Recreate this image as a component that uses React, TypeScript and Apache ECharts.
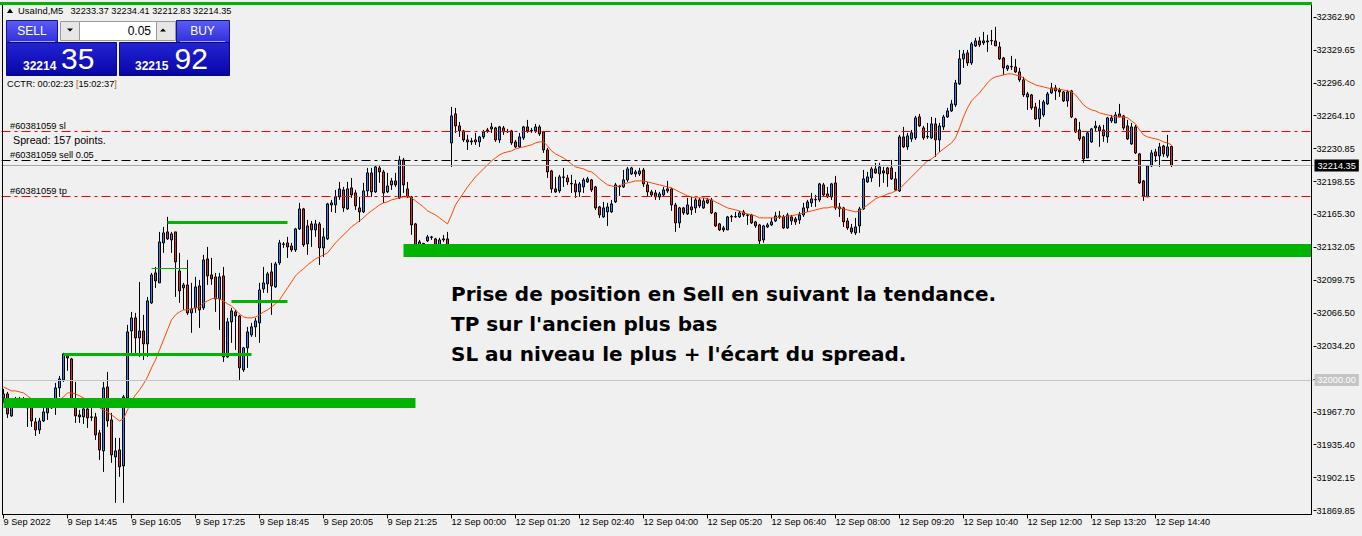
import React, { useEffect, useRef } from 'react';
import * as echarts from 'echarts';

// ---------- data ----------
const SLOT_COUNT = 328; // 293 candles + empty right margin of the MT4 chart
const categories = Array.from({ length: SLOT_COUNT }, (_, i) => String(i));

const timeLabels = ['9 Sep 2022', '9 Sep 14:45', '9 Sep 16:05', '9 Sep 17:25', '9 Sep 18:45', '9 Sep 20:05', '9 Sep 21:25',
  '12 Sep 00:00', '12 Sep 01:20', '12 Sep 02:40', '12 Sep 04:00', '12 Sep 05:20', '12 Sep 06:40', '12 Sep 08:00',
  '12 Sep 09:20', '12 Sep 10:40', '12 Sep 12:00', '12 Sep 13:20', '12 Sep 14:40'];

// price scale labels, bottom to top ('' = slot covered by the 32000 level label)
const priceTickLabels = ['31869.85', '31902.15', '31935.40', '31967.70', '', '32034.20', '32066.50', '32099.75',
  '32132.05', '32165.30', '32198.55', '32230.85', '32264.10', '32296.40', '32329.65', '32362.90'];

const opens = [31982,31986,31964,31977,31978,31981,31974,31972,31958,31950,
 31959,31967,31972,31974,31992,32000,32025,32021,31980,31965,
 31963,31971,31963,31963,31947,31929,31993,31960,31923,31930,
 31914,31982,32049,32062,32042,32049,32036,32077,32107,32097,
 32137,32148,32140,32148,32109,32092,32095,32067,32072,32094,
 32072,32121,32105,32103,32081,32104,32023,32058,32068,32064,
 32010,32032,32045,32053,32057,32091,32096,32108,32093,32117,
 32136,32137,32134,32130,32151,32171,32136,32156,32150,32156,
 32132,32141,32175,32175,32183,32190,32171,32192,32187,32172,
 32168,32189,32207,32188,32212,32208,32188,32195,32199,32182,
 32220,32191,32183,32156,32134,32136,32139,32143,32141,32135,
 32140,32141,32237,32266,32254,32249,32238,32239,32240,32238,
 32243,32249,32251,32252,32240,32252,32248,32249,32238,32233,
 32242,32253,32249,32249,32253,32248,32230,32209,32191,32189,
 32203,32202,32196.5,32196,32188,32193,32198,32200,32193,32173,
 32163,32168,32168,32178,32193,32193,32200,32206,32206,32206,
 32210,32195,32188,32187,32183,32185,32191,32191,32175,32157,
 32172,32166,32173,32172,32180,32172,32180,32180,32167,32156,
 32152,32150,32163,32163,32163,32168,32165,32165,32158,32155,
 32140,32153,32155,32159,32163,32163,32152,32163,32161,32160,
 32165,32172,32177,32180,32180,32195,32186,32183,32197,32173,
 32172,32159,32152,32147,32154,32171,32198,32202,32211,32206,
 32209,32212,32212,32201,32189,32243,32233,32241,32242,32263,
 32252,32243,32242,32256,32240,32253,32263,32269,32275,32296,
 32321,32327,32317,32334,32339,32337,32338,32339,32339,32333,
 32322,32311,32313,32313,32308,32300,32283,32285,32273,32261,
 32265,32276,32287,32292,32290,32288,32279,32289,32261,32250,
 32243,32222,32238,32252,32253,32250,32243,32259,32257,32266,
 32264,32254,32236,32253,32226,32199,32183,32214,32228,32224,
 32234,32224,32233.37];

const closes = [31986,31966,31978,31979,31981,31974,31972,31959,31950,31959,
 31968,31972,31975,31992,32001,32026,32022,31980,31964,31963,
 31971,31962,31962.5,31945,31930,31992,31959,31925,31929,31913,
 31983,32048,32062,32042,32049,32036,32079,32105,32099,32138,
 32147,32141,32146,32118,32089,32095,32067,32071,32093,32070,
 32120,32104,32101,32081,32103,32023,32058,32069,32064,32012,
 32032,32048,32053,32059,32090,32097,32106,32094,32116,32137,
 32135.5,32133,32130,32151,32171,32135,32154,32150,32156,32132,
 32143,32176,32177,32183,32191,32172,32191,32185,32174,32168,
 32189,32207,32188,32213,32208,32187,32194,32199,32195,32220,
 32195,32183,32155,32135,32138,32136.5,32143,32142.5,32134,32140,
 32141,32132,32264,32254,32249,32240,32240,32238,32238,32243,
 32248,32250,32253,32240,32253,32248,32248.5,32237,32233,32243,
 32253,32249,32249.5,32253,32246,32230,32208,32191,32188,32203,
 32202.5,32198,32196,32188,32196,32200,32201,32190,32172,32165,
 32172,32173,32176,32195,32193.5,32200,32211,32212,32208,32209,
 32196,32188,32185,32183,32186,32190,32189,32175,32157,32172,
 32167,32175,32170,32180,32174,32179,32177,32167,32154,32150,
 32150,32163,32163.5,32163.5,32167,32165,32164.5,32157,32154,32139,
 32154,32155,32158,32164,32164,32152,32165,32159,32158,32165,
 32172,32178,32181,32180.5,32196,32185,32183,32196,32172,32171,
 32158,32152,32148,32153,32171,32201,32203,32211,32207,32213,
 32207,32206,32201,32190,32243,32233,32244,32247,32262,32254,
 32242,32243.5,32256,32240,32254,32263,32269,32276,32297,32321,
 32326,32317,32336,32339,32335,32339,32339,32339.5,32334,32321,
 32312,32314,32313.5,32308,32300,32285,32286,32272,32261,32271,
 32278,32286,32292,32289,32288,32279,32288,32263,32248,32241,
 32221,32247,32251,32254,32249,32244,32262,32262,32265,32263,
 32252,32241,32253,32227,32197,32184,32214,32227,32224,32233,
 32226,32233,32214.35];

const highs = [31991,31988,31980,31983,31983,31983,31977,31973,31962,31962,
 31977,31979,31980,31997,32004,32027,32026,32022,31998,31970,
 31973,31973,31973,31967,31950,31998,32008,31967,31942,31942,
 31985,32055,32068,32067,32098,32065,32083,32107,32113,32148,
 32153,32163,32148,32148,32127,32097,32120,32097,32103,32100,
 32125,32133,32122,32107,32107,32113,32062,32072,32070,32065,
 32033,32053,32057,32062,32097,32113,32108,32117,32118,32140,
 32138,32143,32137,32152,32177,32172,32160,32159,32160,32158,
 32152,32177,32180,32190,32198,32193,32198,32202,32190,32183,
 32197,32212,32212,32215,32215,32210,32207,32202,32207,32224,
 32222,32198,32184,32157,32140,32137,32145,32144,32142,32142,
 32145,32148,32273,32272,32258,32250,32245,32242,32247,32244,
 32250,32252,32257,32253,32254,32254,32251,32250,32240,32247,
 32254,32260,32252,32256,32255,32249,32232,32210,32203,32205,
 32212,32205,32205,32200,32198,32202,32203,32201,32194,32174,
 32178,32177,32180,32197,32195,32210,32213,32213,32210,32212,
 32212,32198,32190,32190,32188,32193,32199,32192,32177,32173,
 32173,32182,32183,32182,32182,32182,32182,32182,32168,32157,
 32154,32164,32165,32168,32169,32170,32166,32166,32159,32156,
 32155,32157,32162,32168,32169,32165,32167,32165,32163,32168,
 32177,32180,32187,32185,32197,32197,32193,32197,32204,32177,
 32173,32162,32156,32162,32173,32210,32208,32213,32217,32217,
 32213,32213,32220,32208,32245,32253,32247,32250,32264,32266,
 32254,32257,32263,32262,32257,32265,32272,32280,32300,32330,
 32330,32330,32338,32342,32343,32348,32345,32350,32353,32338,
 32323,32315,32324,32321,32312,32303,32288,32286,32277,32280,
 32280,32288,32297,32295,32292,32289,32290,32290,32262,32258,
 32244,32248,32252,32259,32255,32255,32263,32265,32268,32276,
 32265,32260,32257,32255,32227,32200,32215,32230,32231,32237,
 32235,32245,32234.41];

const lows = [31977,31962,31963,31975,31976,31973,31953,31953,31944,31946,
 31958,31960,31971,31965,31983,31998,32009,31977,31957,31957,
 31956,31952,31959,31940,31920,31908,31953,31917,31877,31903,
 31877,31973,32027,32025,32023,32020,32023,32076,32092,32097,
 32127,32140,32127,32083,32077,32070,32065,32047,32067,32052,
 32070,32095,32095,32068,32050,32018,32022,32037,32030,32000,
 32008,32012,32043,32043,32037,32087,32087,32065,32092,32115,
 32132,32122,32128,32128,32150,32133,32125,32133,32143,32115,
 32123,32140,32168,32167,32180,32168,32170,32182,32170,32158,
 32167,32183,32183,32187,32197,32177,32187,32190,32193,32181,
 32187,32182,32145,32128,32125,32132,32138,32140,32132,32133,
 32138,32130,32213,32247,32243,32238,32230,32235,32235,32233,
 32241,32247,32247,32238,32237,32245,32247,32235,32232,32232,
 32240,32247,32247,32247,32244,32227,32202,32187,32187,32187,
 32193,32195,32187,32182,32183,32187,32197,32188,32170,32162,
 32162,32154,32167,32177,32184,32192,32198,32205,32203,32204,
 32193,32183,32183,32180,32180,32183,32187,32169,32148,32152,
 32165,32165,32165,32167,32172,32171,32176,32166,32153,32149,
 32148,32150,32158,32162,32162,32163,32155,32156,32152,32132,
 32137,32152,32154,32158,32161,32151,32151,32155,32155,32156,
 32163,32168,32173,32173,32178,32183,32182,32180,32170,32163,
 32153,32150,32146,32145,32147,32170,32197,32198,32206,32193,
 32197,32193,32200,32189,32188,32232,32230,32238,32240,32253,
 32240,32241,32241,32223,32228,32250,32262,32268,32273,32295,
 32312,32314,32315,32333,32333,32335,32328,32335,32334,32320,
 32305,32309,32310,32307,32298,32283,32270,32270,32260,32253,
 32263,32275,32286,32280,32283,32278,32273,32262,32247,32239,
 32217,32222,32237,32248,32233,32238,32237,32257,32257,32263,
 32250,32240,32235,32226,32196,32179,32183,32213,32218,32213,
 32223,32222,32212.83];

// moving average as drawn on the chart
const maValues = [31993,31991,31989,31989,31988,31987,31984,31981,31978,31977,
 31976,31976,31976,31977,31980,31983,31987,31987,31986,31984,
 31982,31980,31979,31976,31972,31970,31968,31965,31962,31959,
 31961,31970,31979,31985,31990,31996,32003,32012,32020,32030,
 32040,32050,32060,32065,32068,32070,32070,32071,32072,32073,
 32077,32079,32081,32082,32081,32079,32076,32074,32070,32066,
 32063,32062,32062,32063,32065,32068,32070,32073,32076,32080,
 32086,32092,32098,32104,32108,32111,32115,32118,32121,32123,
 32125,32127,32132,32137,32141,32145,32149,32153,32156,32159,
 32162,32166,32169,32172,32175,32177,32178,32180,32181,32182,
 32183,32183,32182,32179,32176,32173,32169,32167,32165,32162,
 32159,32156,32165,32175,32181,32187,32193,32198,32203,32207,
 32211,32215,32219,32222,32225,32227,32228,32229,32231,32232,
 32233,32234,32235,32237,32238,32238,32234,32229,32226,32224,
 32222,32219,32216,32213,32212,32211,32209,32208,32205,32201,
 32198,32195,32194,32193,32194,32196,32197,32198,32199,32199,
 32199,32198,32197,32196,32195,32194,32193,32192,32190,32188,
 32186,32184,32183,32182,32182,32182,32181,32180,32178,32176,
 32174,32172,32171,32170,32169,32167,32166,32165,32164,32162,
 32162,32162,32162,32162,32163,32163,32164,32164,32165,32166,
 32167,32168,32169,32170,32171,32172,32172,32173,32173,32172,
 32171,32170,32169,32168,32169,32172,32175,32178,32181,32183,
 32184,32186,32187,32189,32191,32195,32199,32203,32207,32211,
 32215,32219,32221,32224,32228,32231,32234,32237,32242,32252,
 32263,32272,32279,32283,32287,32292,32297,32301,32303,32304,
 32305,32306,32306,32305,32304,32302,32299,32297,32295,32294,
 32293,32292,32291,32291,32290.5,32290,32289,32288,32285,32280,
 32275,32272,32270,32269,32267,32266,32265,32264,32263,32263,
 32263,32262,32259,32256,32250,32245,32243,32242,32241,32240,
 32238,32237,32235];

// order / price levels
const slPrice = 32248.5;
const entryPrice = 32219.5;
const tpPrice = 32183.5;
const bidPrice = 32214.35;
const roundLevel = 32000;

// hand-drawn support/resistance levels (price, first candle, last candle)
const levelPrices = [31977.5, 32129.3, 32158, 32112, 32026, 32079];
const levelStart = [0, 100, 41, 37, 15, 57];
const levelEnd = [103, 327, 71, 46, 62, 71];

const symbolName = 'UsaInd,M5';
const quoteLine = '32233.37 32234.41 32212.83 32214.35';
const noteLines = [
  'Prise de position en Sell en suivant la tendance.',
  "TP sur l'ancien plus bas",
  "SL au niveau le plus + l'écart du spread.",
];

// ---------- chart ----------
const FONT = "'Liberation Sans', Arial, sans-serif";
const GREEN = '#00b400';
const Y_MIN = 31869.4;
const Y_MAX = 32375.9;
const Y_STEP = 32.9;

function txt(x: number, y: number, text: string, font: string, fill = '#000', align = 'left', extra: any = {}) {
  return {
    type: 'text', x, y, silent: true, z: 100,
    style: { text, font, fill, textAlign: align, align, textVerticalAlign: 'middle', verticalAlign: 'middle', ...extra },
  };
}

function buildOption() {
  const candleData = opens.map((o, i) => [o, closes[i], lows[i], highs[i]]);
  const dashDot = [9, 4, 3, 4];
  const levelWidths = [10, 13, 3, 1, 3, 3];

  const levelLines = levelPrices.map((p, i) => [
    { coord: [levelStart[i], p], lineStyle: { color: GREEN, width: levelWidths[i], type: 'solid', cap: 'butt' } },
    { coord: [levelEnd[i], p] },
  ]);

  const btnGrad = () => new echarts.graphic.LinearGradient(0, 0, 0, 1, [
    { offset: 0, color: '#5c5cf6' }, { offset: 1, color: '#2f2fdc' },
  ]);
  const boxGrad = () => new echarts.graphic.LinearGradient(0, 0, 0, 1, [
    { offset: 0, color: '#2323d6' }, { offset: 1, color: '#0606a6' },
  ]);

  const graphic: any[] = [
    // chart frame
    { type: 'line', silent: true, z: 90, shape: { x1: 2.5, y1: 3, x2: 2.5, y2: 515 }, style: { stroke: '#000', lineWidth: 1 } },
    { type: 'line', silent: true, z: 90, shape: { x1: 1311.5, y1: 3, x2: 1311.5, y2: 515 }, style: { stroke: '#000', lineWidth: 1 } },
    { type: 'line', silent: true, z: 90, shape: { x1: 2, y1: 514.5, x2: 1312, y2: 514.5 }, style: { stroke: '#000', lineWidth: 1 } },
    { type: 'rect', silent: true, z: 91, shape: { x: 0, y: 2, width: 1312, height: 3 }, style: { fill: GREEN } },
    // header
    { type: 'polygon', silent: true, z: 100, shape: { points: [[7, 13], [10, 8.5], [13, 13]] }, style: { fill: '#000' } },
    txt(18, 10.5, symbolName, `9.4px ${FONT}`),
    txt(70.5, 10.5, quoteLine, `9.2px ${FONT}`),
    // one-click trading panel
    { type: 'rect', silent: true, z: 100, shape: { x: 6.5, y: 20.5, width: 51, height: 22 }, style: { fill: btnGrad(), stroke: '#14148a', lineWidth: 1 } },
    { type: 'rect', silent: true, z: 100, shape: { x: 176.5, y: 20.5, width: 53, height: 22 }, style: { fill: btnGrad(), stroke: '#14148a', lineWidth: 1 } },
    { type: 'rect', silent: true, z: 100, shape: { x: 6.5, y: 42.5, width: 110, height: 33 }, style: { fill: boxGrad(), stroke: '#0a0a70', lineWidth: 1 } },
    { type: 'rect', silent: true, z: 100, shape: { x: 119.5, y: 42.5, width: 110, height: 33 }, style: { fill: boxGrad(), stroke: '#0a0a70', lineWidth: 1 } },
    { type: 'line', silent: true, z: 101, shape: { x1: 10, y1: 41.5, x2: 55, y2: 41.5 }, style: { stroke: '#a8a8ff', lineWidth: 1 } },
    { type: 'line', silent: true, z: 101, shape: { x1: 180, y1: 41.5, x2: 225, y2: 41.5 }, style: { stroke: '#a8a8ff', lineWidth: 1 } },
    { type: 'rect', silent: true, z: 100, shape: { x: 60.5, y: 21.5, width: 19, height: 19 }, style: { fill: '#e6e6e6', stroke: '#9a9a9a', lineWidth: 1 } },
    { type: 'rect', silent: true, z: 100, shape: { x: 79.5, y: 21.5, width: 77, height: 19 }, style: { fill: '#ffffff', stroke: '#9a9a9a', lineWidth: 1 } },
    { type: 'rect', silent: true, z: 100, shape: { x: 156.5, y: 21.5, width: 19, height: 19 }, style: { fill: '#e6e6e6', stroke: '#9a9a9a', lineWidth: 1 } },
    { type: 'polygon', silent: true, z: 101, shape: { points: [[67, 28.5], [73, 28.5], [70, 31.5]] }, style: { fill: '#000' } },
    { type: 'polygon', silent: true, z: 101, shape: { points: [[160, 31.5], [166, 31.5], [163, 28.5]] }, style: { fill: '#000' } },
    txt(32, 31, 'SELL', `12px ${FONT}`, '#ffffff', 'center'),
    txt(202.5, 31, 'BUY', `12px ${FONT}`, '#ffffff', 'center'),
    txt(151, 31, '0.05', `12px ${FONT}`, '#000', 'right'),
    txt(23, 65.5, '32214', `bold 12px ${FONT}`, '#ffffff'),
    txt(61, 58.5, '35', `30px ${FONT}`, '#ffffff'),
    txt(135, 65.5, '32215', `bold 12px ${FONT}`, '#ffffff'),
    txt(174.5, 58.5, '92', `30px ${FONT}`, '#ffffff'),
    {
      type: 'text', x: 7, y: 83.5, silent: true, z: 100,
      style: {
        text: '{a|CCTR: 00:02:23 }{b|[}{a|15:02:37}{b|]}', textVerticalAlign: 'middle', verticalAlign: 'middle',
        rich: { a: { font: `9.2px ${FONT}`, fill: '#000', color: '#000' }, b: { font: `9.2px ${FONT}`, fill: '#b0620a', color: '#b0620a' } },
      },
    },
    // order line labels
    txt(10, 125.5, '#60381059 sl', `9.3px ${FONT}`),
    txt(13, 140, 'Spread: 157 points.', `10.7px ${FONT}`),
    txt(10, 155, '#60381059 sell 0.05', `9.3px ${FONT}`),
    txt(10, 190.5, '#60381059 tp', `9.3px ${FONT}`),
    // notes
    ...noteLines.map((t, i) => txt(451, 294 + i * 30, t, `bold 20px 'DejaVu Sans', sans-serif`)),
  ];

  return {
    animation: false,
    backgroundColor: '#f0f0f0',
    grid: { left: 1.5, top: 4, width: 1312, height: 506.5, outerBoundsMode: 'none', containLabel: false },
    xAxis: {
      type: 'category',
      data: categories,
      boundaryGap: true,
      offset: 4,
      axisLine: { show: false },
      splitLine: { show: false },
      axisTick: {
        show: true, alignWithLabel: true, length: 4,
        interval: (i: number) => i % 16 === 0 && i <= 288,
        lineStyle: { color: '#000', width: 1 },
      },
      axisLabel: {
        interval: 15, align: 'left', margin: 3, fontSize: 9.2, color: '#000', fontFamily: FONT,
        hideOverlap: false,
        formatter: (_v: string, i: number) => (i % 16 === 0 ? timeLabels[i / 16] ?? '' : ''),
      },
    },
    yAxis: {
      type: 'value', position: 'right', min: Y_MIN, max: Y_MAX, interval: Y_STEP,
      axisLine: { show: false },
      splitLine: { show: false },
      axisTick: { show: true, length: 3, lineStyle: { color: '#000' } },
      axisLabel: {
        margin: 3, fontSize: 9.2, color: '#000', fontFamily: FONT, showMaxLabel: false, hideOverlap: false,
        formatter: (v: number) => {
          const k = Math.round((v - Y_MIN) / Y_STEP);
          return Math.abs(v - (Y_MIN + k * Y_STEP)) < 0.5 ? priceTickLabels[k] ?? '' : '';
        },
      },
    },
    series: [
      {
        type: 'line',
        data: [],
        z: 1,
        silent: true,
        markLine: {
          silent: true,
          symbol: ['none', 'none'],
          animation: false,
          label: { show: false },
          emphasis: { disabled: true },
          data: [
            ...levelLines,
            { yAxis: roundLevel, lineStyle: { color: '#c4c4c4', type: 'solid', width: 1 },
              label: { show: true, position: 'end', distance: 1, formatter: '32000.00', backgroundColor: '#c4c4c4', color: '#ffffff', padding: [2, 3, 1, 3], fontSize: 9.2, fontFamily: FONT } },
            { yAxis: slPrice, lineStyle: { color: '#ff0000', type: dashDot, width: 1 } },
            { yAxis: entryPrice, lineStyle: { color: '#000000', type: dashDot, width: 1 } },
            { yAxis: tpPrice, lineStyle: { color: '#ff0000', type: dashDot, width: 1 } },
            { yAxis: bidPrice, lineStyle: { color: '#a8a8a8', type: 'solid', width: 1 },
              label: { show: true, position: 'end', distance: 1, formatter: () => bidPrice.toFixed(2), backgroundColor: '#000000', color: '#ffffff', padding: [2, 3, 1, 3], fontSize: 9.2, fontFamily: FONT } },
          ],
        },
      },
      {
        type: 'candlestick',
        data: candleData,
        barWidth: 2,
        z: 2,
        itemStyle: {
          color: '#1e8cf0', color0: '#e5282b',
          borderColor: '#000000', borderColor0: '#000000', borderColorDoji: '#000000', borderWidth: 1,
        },
      },
      {
        type: 'line',
        data: maValues,
        z: 3,
        symbol: 'none',
        showSymbol: false,
        silent: true,
        lineStyle: { color: '#ff4500', width: 1 },
      },
    ],
    graphic,
  };
}

export default function App() {
  const ref = useRef<HTMLDivElement>(null);
  useEffect(() => {
    document.body.style.margin = '0';
    const chart = echarts.init(ref.current!, undefined, { renderer: 'svg' });
    chart.setOption(buildOption() as any);
    return () => chart.dispose();
  }, []);
  return <div ref={ref} style={{ width: 1362, height: 536, background: '#f0f0f0' }} />;
}
